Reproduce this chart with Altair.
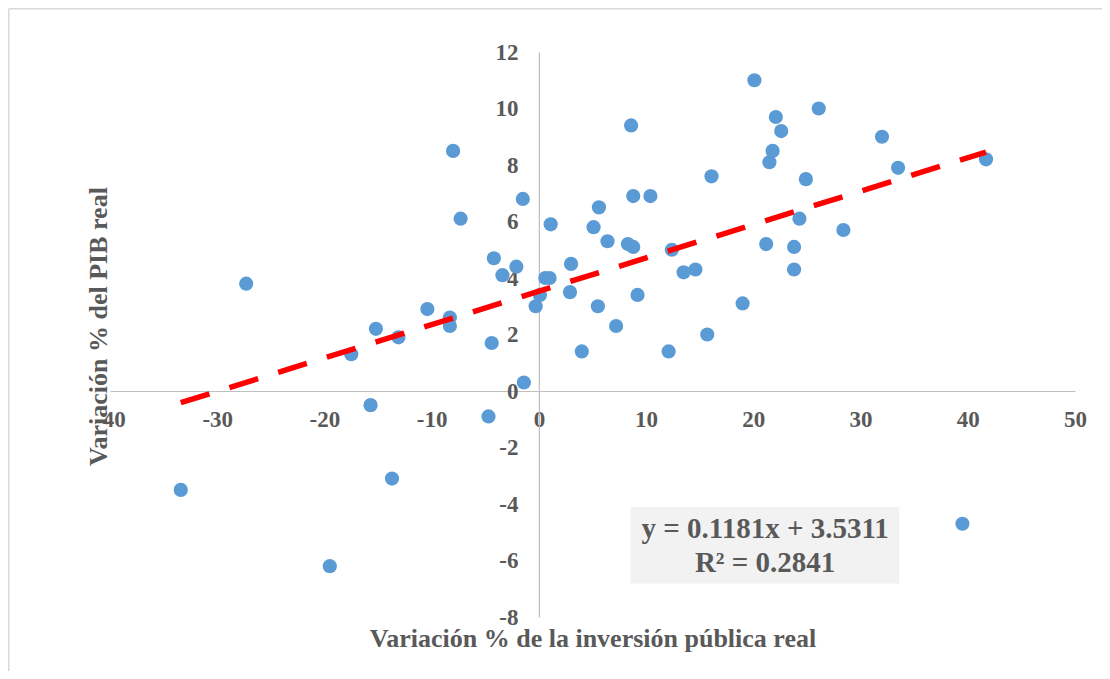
import altair as alt
import pandas as pd

# ---- data ----
inv_var = [-27.3, -8.0, -1.5, -7.3, -4.2, -2.1, -3.4, 0.6, 1.0, 0.1, -0.3,
           -10.4, -8.3, -8.3, -15.2, -13.1, -4.4, -17.5, -1.4, -15.7, -4.7,
           -33.4, -13.7, -19.5, 20.1, 26.1, 22.1, 22.6, 8.6, 32.0, 21.8, 21.5,
           41.7, 33.5, 16.1, 24.9, 8.8, 10.4, 5.6, 1.1, 5.1, 6.4, 8.3, 8.8,
           24.3, 28.4, 12.4, 21.2, 23.8, 3.0, 13.5, 14.6, 23.8, 2.9, 5.5, 9.2,
           7.2, 19.0, 4.0, 12.1, 15.7, 39.5]
pib_var = [3.8, 8.5, 6.8, 6.1, 4.7, 4.4, 4.1, 4.0, 4.0, 3.4, 3.0,
           2.9, 2.6, 2.3, 2.2, 1.9, 1.7, 1.3, 0.3, -0.5, -0.9,
           -3.5, -3.1, -6.2, 11.0, 10.0, 9.7, 9.2, 9.4, 9.0, 8.5, 8.1,
           8.2, 7.9, 7.6, 7.5, 6.9, 6.9, 6.5, 5.9, 5.8, 5.3, 5.2, 5.1,
           6.1, 5.7, 5.0, 5.2, 5.1, 4.5, 4.2, 4.3, 4.3, 3.5, 3.0, 3.4,
           2.3, 3.1, 1.4, 1.4, 2.0, -4.7]

x_domain = [-40, 50]
y_domain = [-8, 12]
x_ticks = list(range(-40, 51, 10))
y_ticks = list(range(-8, 13, 2))

slope = 0.1181
intercept = 3.5311
r_squared = 0.2841
eq_lines = [f"y = {slope}x + {intercept}", f"R² = {r_squared}"]

x_title = "Variación % de la inversión pública real"
y_title = "Variación % del PIB real"

# annotation box (data units)
eq_box_x = [8.55, 33.6]
eq_box_y = [-4.11, -6.81]
eq_text_pos = [21.1, -5.21]

# ---- styling ----
W, H = 965, 565
PAD = {"left": 102, "top": 44, "right": 27, "bottom": 54}
FONT = "Liberation Serif"
GRAY_TXT = "#595959"
AXIS_GRAY = "#BFBFBF"

x_off = -(0 - x_domain[0]) / (x_domain[1] - x_domain[0]) * W
y_off = -(0 - y_domain[0]) / (y_domain[1] - y_domain[0]) * H
x_axis_px = -x_off  # plot x of the vertical zero line
y_axis_px = H + y_off  # plot y of the horizontal zero line

pts = pd.DataFrame({"x": inv_var, "y": pib_var})
xmin, xmax = min(inv_var), max(inv_var)
trend = pd.DataFrame({"x": [xmin, xmax],
                      "y": [slope * xmin + intercept, slope * xmax + intercept]})

xs = alt.Scale(domain=x_domain, nice=False, zero=False)
ys = alt.Scale(domain=y_domain, nice=False, zero=False)

x_axis = alt.Axis(
    orient="bottom", offset=y_off, values=x_ticks, labelExpr="'' + datum.value",
    labelFont=FONT, labelFontWeight="bold", labelFontSize=23, labelColor=GRAY_TXT,
    labelBaseline="middle", labelPadding=28, labelFlush=False, labelOverlap=False,
    labelBound=False, ticks=False, tickSize=0, grid=False,
    domainColor=AXIS_GRAY, domainWidth=1.2,
    title=x_title, titleFont=FONT, titleFontWeight="bold", titleFontSize=26,
    titleColor=GRAY_TXT, titleY=646 - 52 - y_axis_px, titleBaseline="alphabetic",
)
y_axis = alt.Axis(
    orient="left", offset=x_off, values=y_ticks, labelExpr="'' + datum.value",
    labelFont=FONT, labelFontWeight="bold", labelFontSize=23, labelColor=GRAY_TXT,
    labelBaseline="middle", labelPadding=21, labelFlush=False, labelOverlap=False,
    labelBound=False, ticks=False, tickSize=0, grid=False,
    domainColor=AXIS_GRAY, domainWidth=1.2,
    title=y_title, titleFont=FONT, titleFontWeight="bold", titleFontSize=26,
    titleColor=GRAY_TXT, titleAngle=270, titleX=106 - 110 - x_axis_px,
    titleY=326 - 52, titleBaseline="alphabetic", titleAlign="center",
)

points = alt.Chart(pts).mark_circle(size=201, color="#5B9BD5", opacity=1).encode(
    x=alt.X("x:Q", scale=xs, axis=x_axis),
    y=alt.Y("y:Q", scale=ys, axis=y_axis),
)

trend_line = alt.Chart(trend).mark_line(
    color="#FF0000", strokeWidth=5.5, strokeDash=[30, 21], strokeCap="butt"
).encode(x=alt.X("x:Q", scale=xs), y=alt.Y("y:Q", scale=ys))

box_df = pd.DataFrame({"x1": [eq_box_x[0]], "x2": [eq_box_x[1]],
                       "y1": [eq_box_y[0]], "y2": [eq_box_y[1]]})
eq_box = alt.Chart(box_df).mark_rect(color="#F2F2F2").encode(
    x=alt.X("x1:Q", scale=xs), x2="x2", y=alt.Y("y1:Q", scale=ys), y2="y2"
)

eq_df = pd.DataFrame({"x": [eq_text_pos[0]], "y": [eq_text_pos[1]],
                      "t": [eq_lines]})
eq_text = alt.Chart(eq_df).mark_text(
    font=FONT, fontWeight="bold", fontSize=29, color=GRAY_TXT,
    align="center", baseline="alphabetic", lineHeight=34
).encode(x=alt.X("x:Q", scale=xs), y=alt.Y("y:Q", scale=ys), text="t")

one = pd.DataFrame({"k": [0]})
frame_left = alt.Chart(one).mark_rule(color="#D9D9D9", strokeWidth=1.5).encode(
    x=alt.value(-PAD["left"] + 0.75), y=alt.value(-PAD["top"] + 0.75),
    y2=alt.value(H + PAD["bottom"]))
frame_top = alt.Chart(one).mark_rule(color="#D9D9D9", strokeWidth=1.5).encode(
    x=alt.value(-PAD["left"] + 0.75), x2=alt.value(W + PAD["right"]),
    y=alt.value(-PAD["top"] + 0.75))

chart = alt.layer(frame_left, frame_top, eq_box, eq_text, points, trend_line).properties(
    width=W, height=H, padding=PAD, autosize="none", background="white"
).configure_view(stroke=None)

chart.save("out.html", embed_options={"renderer": "svg", "actions": False})
